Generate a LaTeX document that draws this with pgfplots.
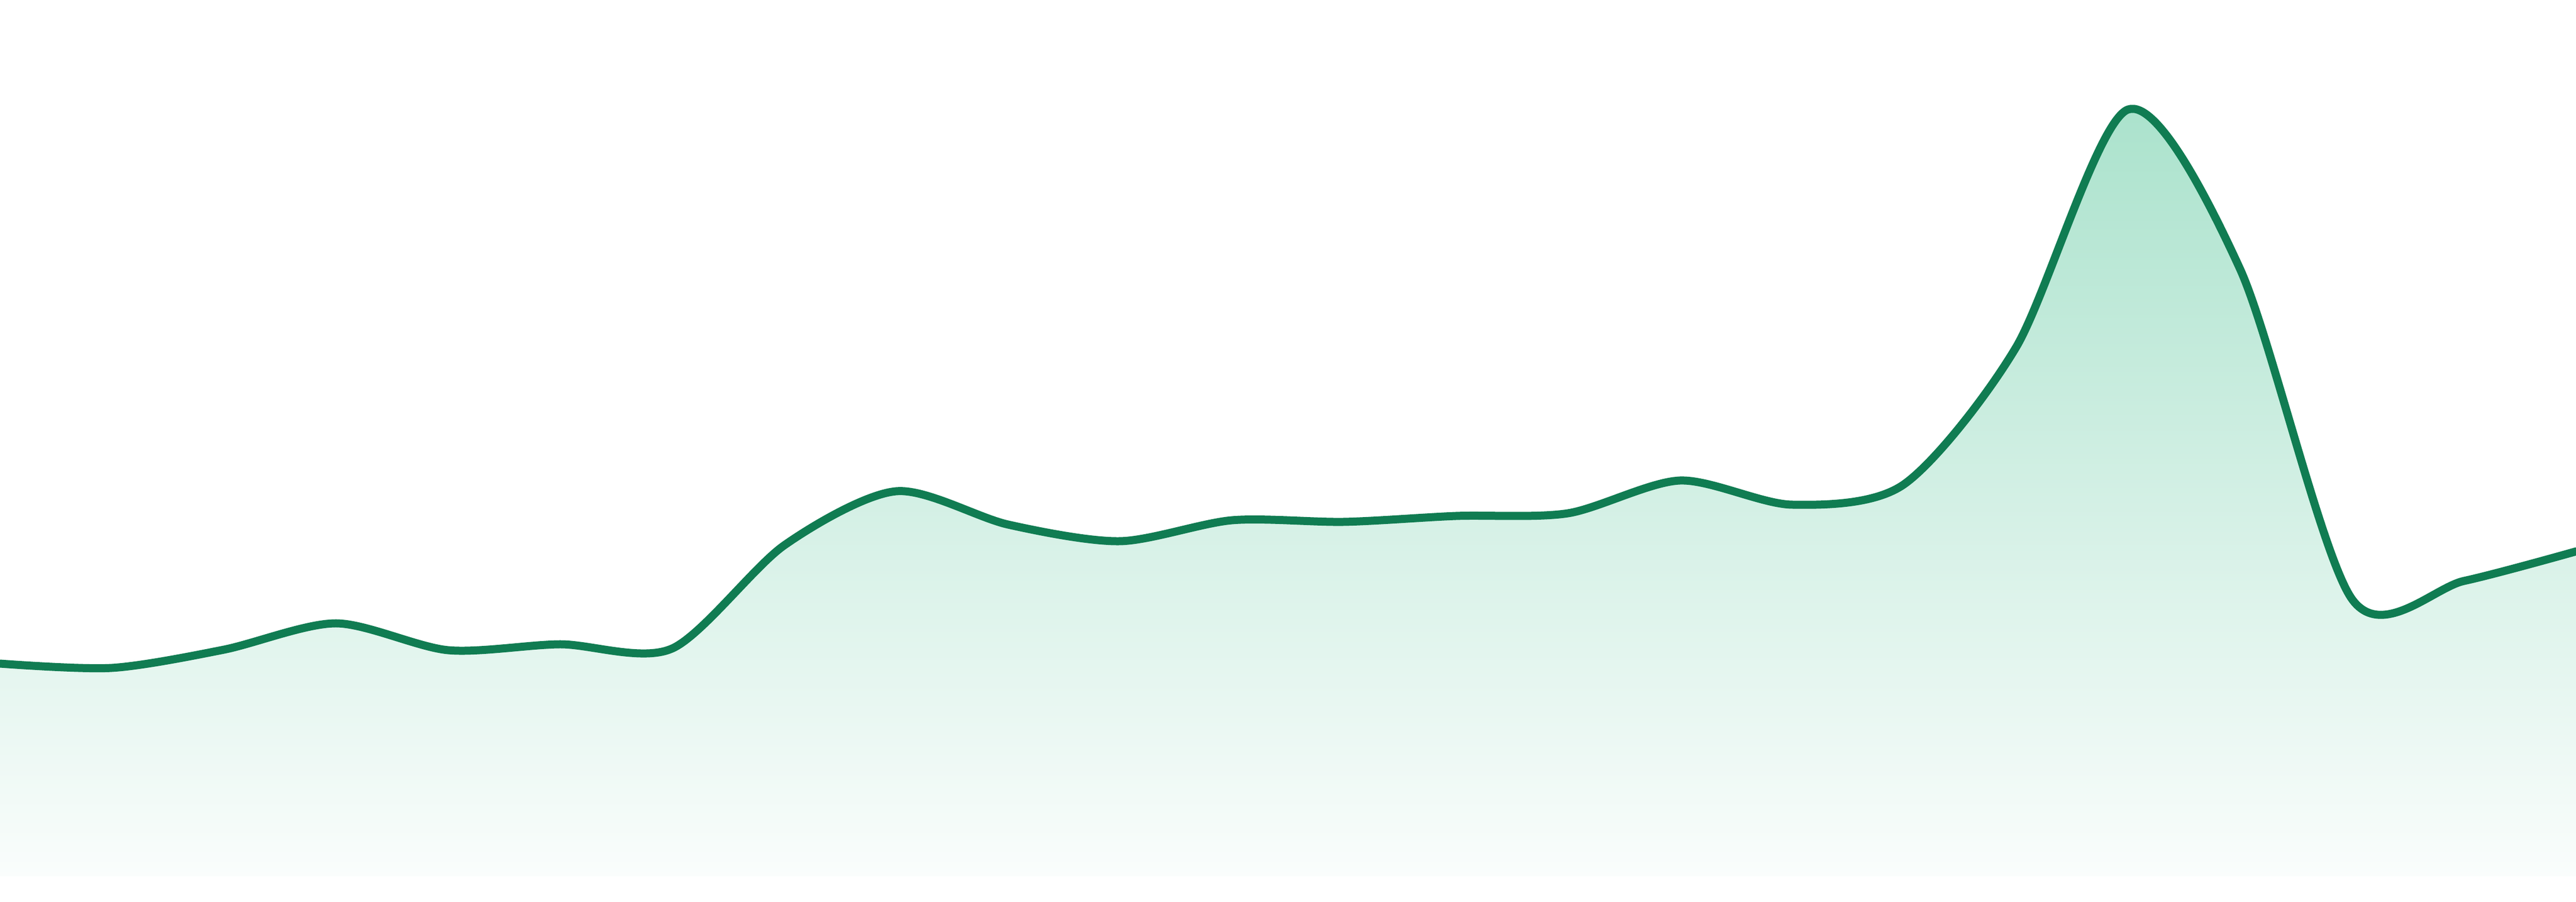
\documentclass[border=0pt]{standalone}
\usepackage{pgfplots}
\pgfplotsset{compat=1.18}
\definecolor{linegreen}{RGB}{16,124,82}
\definecolor{filltop}{RGB}{170,226,204}
\definecolor{fillbot}{RGB}{250,253,252}
\begin{document}
\begin{tikzpicture}
\begin{axis}[
  scale only axis,
  width=480pt, height=163.2pt,
  xmin=0, xmax=23, ymin=0, ymax=1632,
  hide axis,
  clip=true,
]
\addplot[draw=none, smooth, tension=0.48, top color=filltop, bottom color=fillbot] coordinates {
(0,396) (1,388) (2,422) (3,471) (4,421) (5,432) (6,424) (7,616) (8,717) (9,655)
(10,624) (11,663) (12,660) (13,671) (14,676) (15,737) (16,692) (17,730) (18,985)
(19,1428) (20,1131) (21,516) (22,550) (23,605)
} \closedcycle;
\addplot[linegreen, line width=1.5pt, smooth, tension=0.48, line join=round, line cap=round] coordinates {
(0,396) (1,388) (2,422) (3,471) (4,421) (5,432) (6,424) (7,616) (8,717) (9,655)
(10,624) (11,663) (12,660) (13,671) (14,676) (15,737) (16,692) (17,730) (18,985)
(19,1428) (20,1131) (21,516) (22,550) (23,605)
};
\end{axis}
\pgfresetboundingbox
\path (current axis.south west) ++(0,-4.8pt) rectangle (current axis.north east);
\end{tikzpicture}
\end{document}
